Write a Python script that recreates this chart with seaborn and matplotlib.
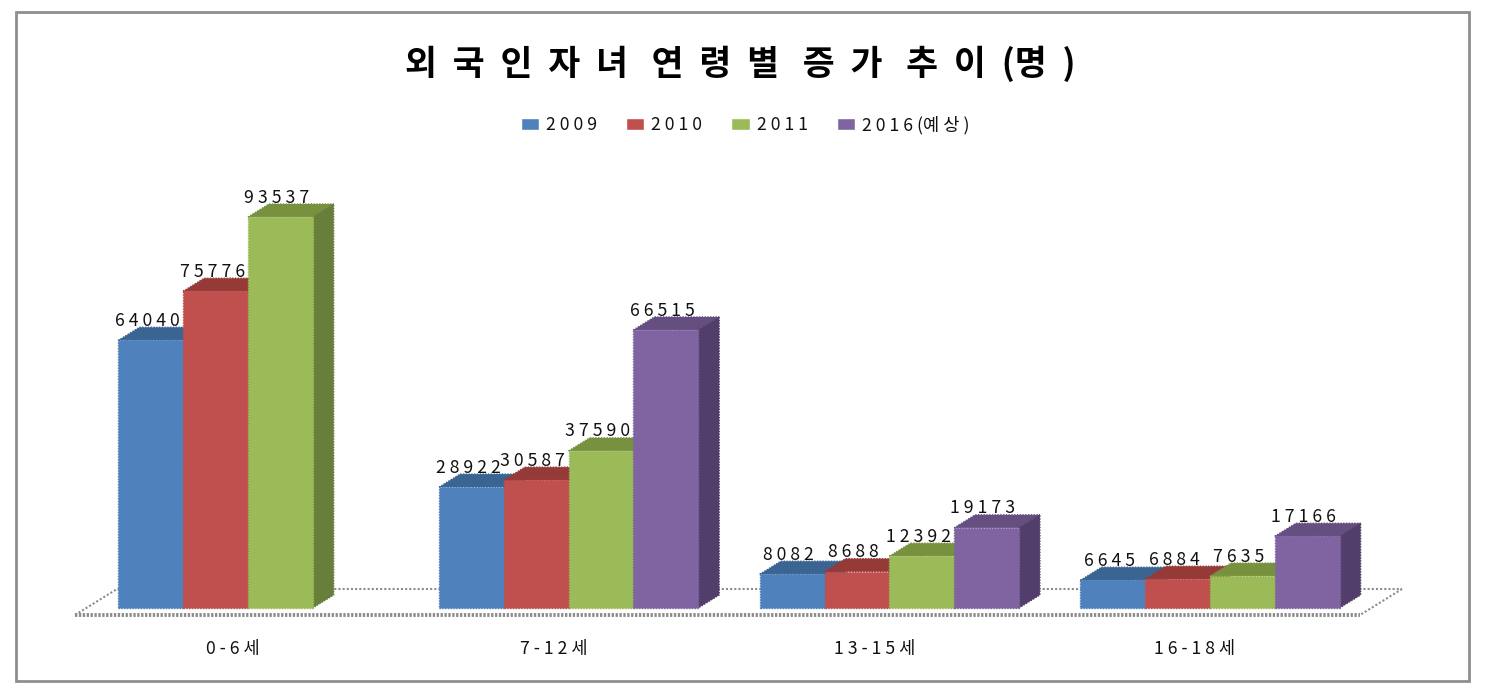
import matplotlib
matplotlib.use("Agg")
import matplotlib.pyplot as plt
import matplotlib.transforms as mtrans
from matplotlib.lines import Line2D
from matplotlib.patches import Polygon, Rectangle
import pandas as pd
import seaborn as sns

ages = ["0 - 6 세", "7 - 1 2 세", "1 3 - 1 5 세", "1 6 - 1 8 세"]
years = ["2 0 0 9", "2 0 1 0", "2 0 1 1", "2 0 1 6 (예 상 )"]
v2009 = [64040, 28922, 8082, 6645]
v2010 = [75776, 30587, 8688, 6884]
v2011 = [93537, 37590, 12392, 7635]
v2016 = [None, 66515, 19173, 17166]

front_cols = ["#4F81BD", "#C0504D", "#9BBB59", "#8064A2"]
top_cols = ["#3A6592", "#963A38", "#78913F", "#654F80"]
side_cols = ["#3A6592", "#8F3A38", "#677F3A", "#523E6B"]

W, H = 1497, 698
sns.set_theme(style="white")
plt.rcParams["font.family"] = ["Noto Sans CJK KR", "DejaVu Sans"]

rows = []
for year, vals in zip(years, [v2009, v2010, v2011, v2016]):
    for age, v in zip(ages, vals):
        if v is not None:
            rows.append({"age": age, "year": year, "value": v})
df = pd.DataFrame(rows)

fig = plt.figure(figsize=(W / 100, H / 100), dpi=100)
ax = fig.add_axes([87.6 / W, (H - 608) / H, 1282.8 / W, 391 / H])
ax.patch.set_visible(False)

sns.barplot(data=df, x="age", y="value", hue="year", order=ages, hue_order=years,
            palette=front_cols, saturation=1, width=0.808, gap=0, ax=ax)
ax.set_xlim(-0.5, 3.5)
ax.set_ylim(0, 93537)
ax.set_xlabel("")
ax.set_ylabel("")
ax.set_yticks([])
sns.despine(ax=ax, left=True, bottom=True)

# fake 3d depth on every bar
dx = 21 / 320.7
dy = 13 / 391 * 93537
dots = (0, (1, 1))
for i, cont in enumerate(ax.containers):
    for bar in cont:
        x0 = bar.get_x()
        x1 = x0 + bar.get_width()
        h = bar.get_height()
        z = 3 + x0
        bar.set_zorder(z + 0.1)
        bar.set_edgecolor(front_cols[i])
        bar.set_linewidth(1.0)
        bar.set_linestyle(dots)
        bar.set_clip_on(False)
        ax.add_patch(Polygon([(x0, h), (x1, h), (x1 + dx, h + dy), (x0 + dx, h + dy)],
                             fc=top_cols[i], ec=top_cols[i], lw=1.0, ls=dots, zorder=z, clip_on=False))
        ax.add_patch(Polygon([(x1, 0), (x1, h), (x1 + dx, h + dy), (x1 + dx, dy)],
                             fc=side_cols[i], ec=side_cols[i], lw=1.0, ls=dots, zorder=z, clip_on=False))
        ax.annotate(" ".join(str(int(h))), xy=((x0 + x1) / 2, h), xytext=(-2.5, 14),
                    textcoords="offset points", ha="center", va="center",
                    fontsize=12.7, color="#111111", zorder=50, annotation_clip=False)

ax.tick_params(axis="x", length=0, pad=23, labelsize=12.7, labelcolor="#111111")
shift = mtrans.ScaledTranslation(-15 / 100, 0, fig.dpi_scale_trans)
for lab in ax.get_xticklabels():
    lab.set_transform(lab.get_transform() + shift)

handles, _ = ax.get_legend_handles_labels()
ax.legend(handles, years, loc="center", bbox_to_anchor=(745 / W, (H - 125) / H),
          bbox_transform=fig.transFigure, ncol=4, frameon=False, fontsize=12.7,
          handlelength=1.03, handleheight=0.68, handletextpad=0.4, columnspacing=1.65,
          labelcolor="#111111")

fig.text(740 / W, (H - 64) / H, "외  국  인  자  녀   연  령  별   증  가   추  이  (명  )", ha="center", va="center",
         fontsize=25, fontweight="bold", color="black")


def line(xs, ys, **kw):
    fig.add_artist(Line2D([x / W for x in xs], [(H - y) / H for y in ys], **kw))


# floor of the 3d plot
line([75, 117, 1402], [615, 589, 589], color="#8C8C8C", lw=1.5, ls=(0, (1, 1)), zorder=-1)
line([1402, 1360], [589, 615], color="#8C8C8C", lw=1.5, ls=(0, (1, 1)), zorder=-1)
line([75, 1360], [615, 615], color="#8C8C8C", lw=2.8, ls=(0, (0.6, 0.4)), zorder=-1)

fig.add_artist(Rectangle((16 / W, (H - 681) / H), 1453 / W, 669 / H, fill=False,
                         ec="#8E8E8E", lw=2, transform=fig.transFigure, zorder=-2))

fig.savefig("out.png", dpi=100)
